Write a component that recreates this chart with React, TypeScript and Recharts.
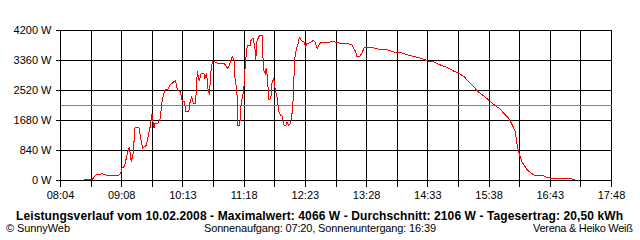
import { LineChart, Line, XAxis, YAxis, CartesianGrid, ReferenceLine } from "recharts";

// time of each reading, minutes since midnight
const minutes = [
  509, 518, 521, 528, 533, 546, 548, 549, 552, 555,
  557, 559, 561, 563, 567, 571, 575, 577, 579, 580,
  581, 583, 584, 587, 590, 591, 593, 595, 598, 600,
  604, 606, 608, 611, 613, 615, 617, 620, 621, 623,
  625, 627, 628, 629, 631, 633, 636, 637, 639, 640,
  642, 643, 644, 645, 648, 651, 657, 659, 661, 663,
  666, 668, 669, 671, 672, 674, 675, 677, 678, 679,
  680, 682, 685, 686, 688, 690, 691, 692, 694, 696,
  698, 699, 701, 702, 703, 705, 707, 708, 710, 712,
  714, 715, 717, 719, 721, 723, 724, 726, 728, 730,
  731, 732, 734, 736, 737, 740, 742, 744, 745, 749,
  752, 754, 756, 758, 760, 763, 770, 775, 781, 788,
  793, 797, 798, 801, 804, 806, 811, 816, 821, 825,
  832, 839, 846, 853, 860, 867, 873, 880, 887, 894,
  901, 906, 912, 917, 922, 927, 933, 938, 943, 949,
  954, 959, 963, 966, 968, 970, 973, 979, 986, 996,
  1000, 1010, 1025, 1030,
];

// power in W
const power = [
  40, 40, 150, 190, 150, 150, 215, 340, 410, 780,
  940, 520, 755, 1490, 1490, 900, 990, 1250, 1500, 1690,
  1850, 1460, 1600, 1600, 1740, 2110, 2390, 2560, 2560, 2670,
  2760, 2790, 2530, 2480, 2220, 2220, 1920, 1920, 2160, 2340,
  2160, 2160, 2530, 3060, 2780, 3000, 3000, 2860, 3000, 2580,
  2410, 2950, 3180, 3320, 3320, 3280, 3280, 3230, 3140, 3230,
  3460, 3370, 2860, 2480, 1550, 1550, 2020, 2390, 2450, 2860,
  3320, 3790, 3790, 3930, 3980, 3740, 3370, 3880, 4020, 4066,
  4066, 3090, 3000, 3160, 2950, 2250, 2300, 2720, 2860, 2480,
  2300, 1970, 1830, 1800, 1550, 1550, 1640, 1550, 1600, 2000,
  2500, 3370, 3700, 3840, 4000, 3900, 3880, 3740, 3840, 3860,
  3930, 3860, 3700, 3790, 3880, 3860, 3880, 3880, 3840, 3840,
  3790, 3600, 3460, 3460, 3600, 3720, 3720, 3710, 3680, 3680,
  3650, 3580, 3570, 3510, 3460, 3420, 3350, 3320, 3230, 3160,
  3060, 3010, 2900, 2760, 2620, 2480, 2360, 2250, 2130, 2020,
  1880, 1740, 1550, 1360, 990, 756, 520, 290, 150, 130,
  75, 56, 50, 10,
];

const yTicks = [0, 840, 1680, 2520, 3360, 4200];
const xLabels = ["08:04", "09:08", "10:13", "11:18", "12:23", "13:28", "14:33", "15:38", "16:43", "17:48"];
const dayStart = 484; // 08:04
const dayEnd = 1068; // 17:48
const average = 2106;

const title = "Leistungsverlauf vom 10.02.2008 - Maximalwert: 4066 W - Durchschnitt: 2106 W - Tagesertrag: 20,50 kWh";
const sunTimes = "Sonnenaufgang: 07:20, Sonnenuntergang: 16:39";

const font = "'Liberation Sans', Arial, sans-serif";

// old-style chart: no antialiasing on grid, axes and the curve
const crisp = `
  .recharts-cartesian-grid line,
  .recharts-cartesian-axis line,
  .recharts-reference-line line,
  .recharts-line-curve { shape-rendering: crispEdges; }
`;

export default function App() {
  const data = minutes.map((t, i) => ({ t, p: power[i] }));
  // one grid line every half label step
  const xTicks = Array.from({ length: 19 }, (_, i) => dayStart + (i * (dayEnd - dayStart)) / 18);

  return (
    <div style={{ position: "absolute", left: 0, top: 0, width: 640, height: 240, background: "#fff" }}>
      <style>{crisp}</style>
      <LineChart
        width={640}
        height={240}
        data={data}
        margin={{ top: 30.5, right: 28.5, bottom: 29.5, left: 0.5 }}
      >
        <CartesianGrid stroke="#000" strokeWidth={1} />
        <XAxis
          dataKey="t"
          type="number"
          domain={[dayStart, dayEnd]}
          ticks={xTicks}
          interval={0}
          height={30}
          stroke="#000"
          tickSize={6}
          tickMargin={5}
          tick={{ fill: "#000", fontSize: 11, fontFamily: font }}
          tickFormatter={(_v: number, i: number) => (i % 2 === 0 ? xLabels[i / 2] : "")}
        />
        <YAxis
          type="number"
          domain={[0, 4200]}
          ticks={yTicks}
          interval={0}
          width={60}
          stroke="#000"
          tickSize={5}
          tickMargin={4}
          tick={{ fill: "#000", fontSize: 11, fontFamily: font }}
          tickFormatter={(v: number) => `${v} W`}
        />
        <ReferenceLine y={average} stroke="#808080" strokeWidth={1} />
        <Line
          type="linear"
          dataKey="p"
          stroke="#ff0000"
          strokeWidth={1}
          dot={false}
          isAnimationActive={false}
        />
      </LineChart>
      <svg
        width={640}
        height={240}
        style={{ position: "absolute", left: 0, top: 0, pointerEvents: "none" }}
        fontFamily={font}
      >
        <text x={16} y={220} fontSize={12} fontWeight="bold" textLength={607} fill="#000">
          {title}
        </text>
        <text x={6} y={232} fontSize={11} textLength={64} fill="#000">
          © SunnyWeb
        </text>
        <text x={204} y={232} fontSize={11} textLength={232} fill="#000">
          {sunTimes}
        </text>
        <text x={533} y={232} fontSize={11} textLength={100} fill="#000">
          Verena &amp; Heiko Weiß
        </text>
      </svg>
    </div>
  );
}
